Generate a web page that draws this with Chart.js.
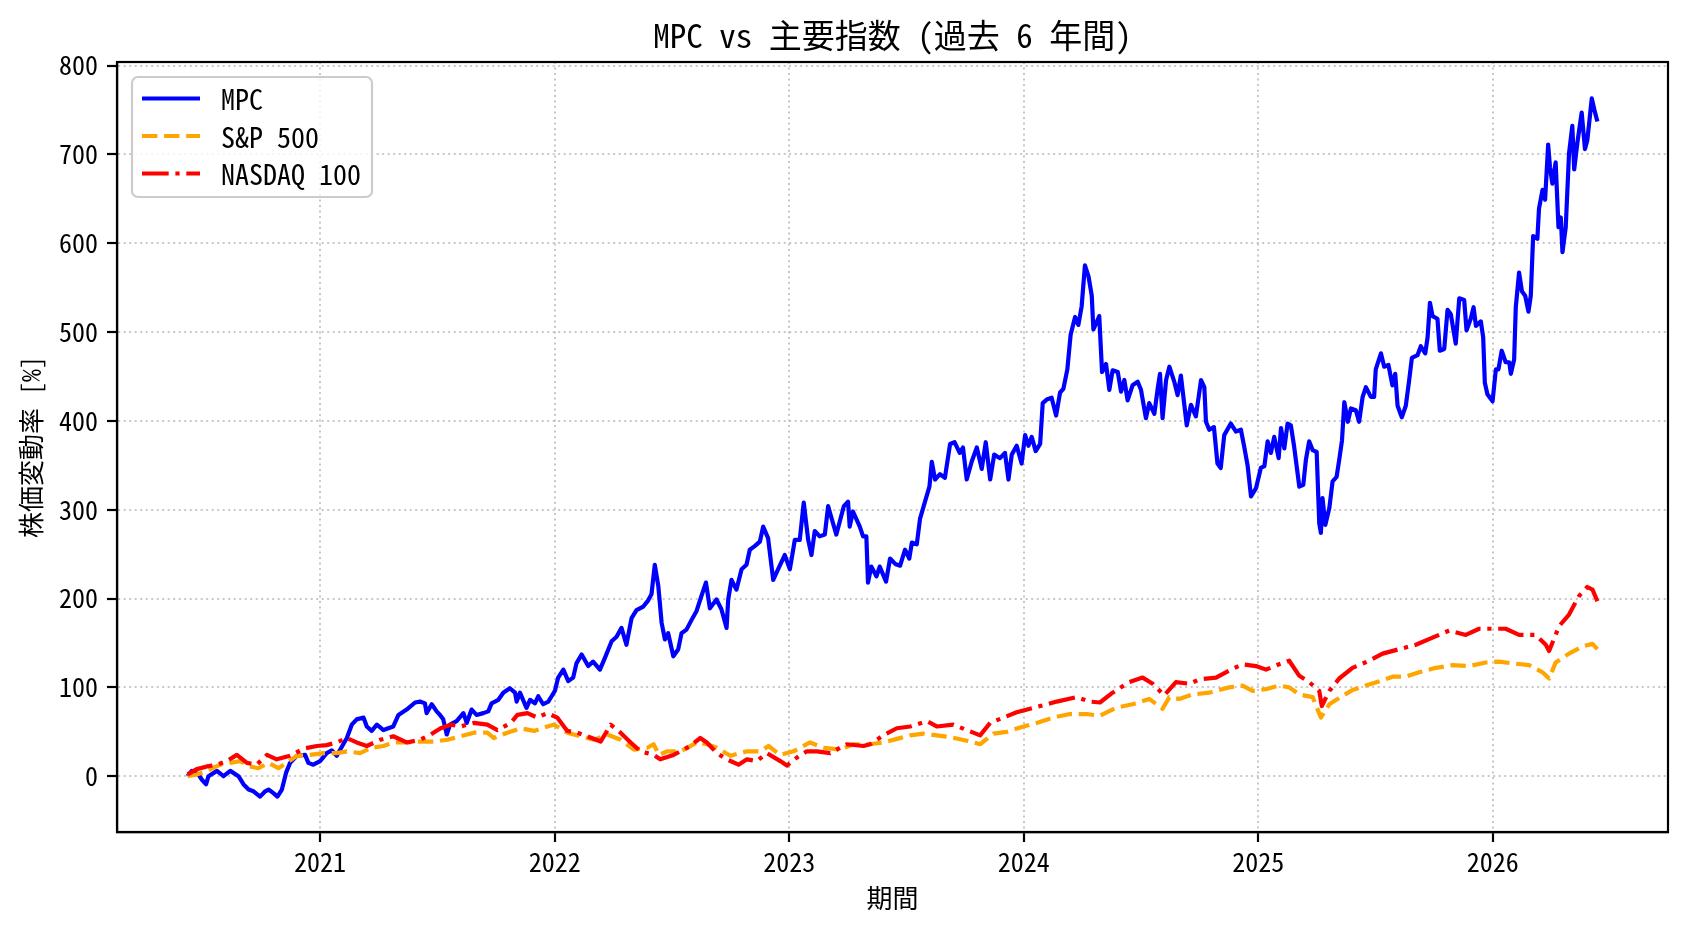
<!DOCTYPE html>
<html lang="ja">
<head>
<meta charset="UTF-8">
<title>MPC vs 主要指数</title>
<script src="https://cdn.jsdelivr.net/npm/chart.js@4.4.1/dist/chart.umd.min.js"></script>
<style>
  html, body { margin: 0; padding: 0; background: #fff; }
  #wrap { width: 1688px; height: 932px; }
</style>
</head>
<body>
<div id="wrap"><canvas id="myChart" width="1688" height="932"></canvas></div>
<script>
// --- data (x = decimal year, y = % change) ---
const chartTitle = 'MPC vs 主要指数 (過去 6 年間)';
const seriesNames = ['MPC', 'S&P 500', 'NASDAQ 100'];
const xTicks = [2021, 2022, 2023, 2024, 2025, 2026];
const yTicks = [0, 100, 200, 300, 400, 500, 600, 700, 800];

const mpcX = [
  2020.435, 2020.453, 2020.481, 2020.496, 2020.514, 2020.524, 2020.560, 2020.588, 2020.617, 2020.652,
  2020.673, 2020.695, 2020.716, 2020.744, 2020.766, 2020.780, 2020.801, 2020.818, 2020.837, 2020.855,
  2020.872, 2020.901, 2020.936, 2020.950, 2020.971, 2021.000, 2021.028, 2021.050, 2021.071, 2021.092,
  2021.114, 2021.135, 2021.156, 2021.185, 2021.199, 2021.220, 2021.242, 2021.270, 2021.291, 2021.312,
  2021.334, 2021.369, 2021.405, 2021.426, 2021.447, 2021.454, 2021.476, 2021.497, 2021.511, 2021.525,
  2021.540, 2021.554, 2021.582, 2021.611, 2021.625, 2021.646, 2021.667, 2021.696, 2021.717, 2021.731,
  2021.760, 2021.781, 2021.809, 2021.831, 2021.838, 2021.852, 2021.880, 2021.895, 2021.916, 2021.930,
  2021.951, 2021.973, 2021.987, 2022.001, 2022.015, 2022.037, 2022.058, 2022.079, 2022.093, 2022.115,
  2022.143, 2022.164, 2022.193, 2022.214, 2022.243, 2022.264, 2022.285, 2022.306, 2022.328, 2022.349,
  2022.378, 2022.399, 2022.413, 2022.427, 2022.442, 2022.456, 2022.470, 2022.484, 2022.506, 2022.527,
  2022.541, 2022.562, 2022.584, 2022.605, 2022.626, 2022.645, 2022.662, 2022.690, 2022.711, 2022.733,
  2022.740, 2022.754, 2022.775, 2022.797, 2022.818, 2022.832, 2022.853, 2022.875, 2022.889, 2022.910,
  2022.932, 2022.953, 2022.981, 2023.003, 2023.024, 2023.045, 2023.062, 2023.081, 2023.095, 2023.109,
  2023.130, 2023.152, 2023.166, 2023.180, 2023.201, 2023.216, 2023.233, 2023.251, 2023.258, 2023.272,
  2023.301, 2023.315, 2023.329, 2023.336, 2023.350, 2023.372, 2023.386, 2023.413, 2023.430, 2023.452,
  2023.473, 2023.494, 2023.512, 2023.523, 2023.544, 2023.558, 2023.580, 2023.598, 2023.608, 2023.622,
  2023.643, 2023.664, 2023.686, 2023.705, 2023.727, 2023.741, 2023.757, 2023.778, 2023.800, 2023.821,
  2023.838, 2023.857, 2023.874, 2023.899, 2023.920, 2023.935, 2023.949, 2023.970, 2023.991, 2024.006,
  2024.020, 2024.034, 2024.051, 2024.070, 2024.081, 2024.098, 2024.119, 2024.138, 2024.155, 2024.169,
  2024.186, 2024.200, 2024.219, 2024.233, 2024.247, 2024.261, 2024.276, 2024.290, 2024.297, 2024.311,
  2024.322, 2024.334, 2024.351, 2024.365, 2024.379, 2024.401, 2024.415, 2024.429, 2024.443, 2024.464,
  2024.486, 2024.500, 2024.521, 2024.535, 2024.557, 2024.571, 2024.581, 2024.592, 2024.607, 2024.621,
  2024.642, 2024.656, 2024.670, 2024.695, 2024.713, 2024.734, 2024.756, 2024.770, 2024.777, 2024.791,
  2024.811, 2024.826, 2024.840, 2024.855, 2024.883, 2024.905, 2024.926, 2024.940, 2024.955, 2024.969,
  2024.990, 2025.011, 2025.026, 2025.040, 2025.054, 2025.068, 2025.087, 2025.097, 2025.111, 2025.125,
  2025.139, 2025.153, 2025.175, 2025.192, 2025.203, 2025.217, 2025.232, 2025.249, 2025.260, 2025.267,
  2025.274, 2025.286, 2025.303, 2025.317, 2025.334, 2025.345, 2025.357, 2025.367, 2025.382, 2025.395,
  2025.416, 2025.430, 2025.445, 2025.459, 2025.480, 2025.494, 2025.501, 2025.523, 2025.537, 2025.555,
  2025.572, 2025.584, 2025.594, 2025.612, 2025.629, 2025.643, 2025.655, 2025.679, 2025.693, 2025.712,
  2025.722, 2025.732, 2025.743, 2025.764, 2025.774, 2025.793, 2025.807, 2025.821, 2025.842, 2025.857,
  2025.878, 2025.888, 2025.906, 2025.918, 2025.928, 2025.949, 2025.959, 2025.966, 2025.977, 2025.999,
  2026.013, 2026.024, 2026.038, 2026.055, 2026.070, 2026.077, 2026.091, 2026.098, 2026.112, 2026.124,
  2026.138, 2026.152, 2026.162, 2026.172, 2026.190, 2026.197, 2026.212, 2026.223, 2026.236, 2026.244,
  2026.254, 2026.268, 2026.280, 2026.290, 2026.297, 2026.311, 2026.325, 2026.339, 2026.347, 2026.361,
  2026.379, 2026.393, 2026.403, 2026.422, 2026.436, 2026.446
];
const mpcY = [
  0, 6, 2, -4, -9, 0, 6, 0, 6, 0,
  -9, -15, -17, -23, -17, -15, -19, -23, -15, 4,
  15, 23, 24, 15, 13, 17, 26, 29, 23, 33,
  43, 58, 64, 66, 56, 51, 58, 52, 54, 56,
  69, 75, 83, 84, 82, 71, 81, 73, 69, 64,
  47, 58, 62, 71, 60, 75, 69, 71, 73, 82,
  86, 94, 99, 94, 84, 94, 77, 86, 82, 90,
  81, 84, 90, 96, 111, 120, 107, 111, 127, 137,
  124, 129, 120, 133, 152, 157, 167, 148, 178, 187,
  191, 198, 205, 238, 214, 173, 154, 161, 135, 143,
  161, 165, 176, 186, 203, 218, 189, 199, 188, 167,
  199, 221, 210, 233, 238, 255, 259, 264, 281, 268,
  221, 233, 249, 233, 266, 266, 308, 266, 249, 276,
  270, 272, 304, 291, 272, 287, 304, 309, 281, 298,
  281, 270, 270, 218, 236, 225, 236, 219, 245, 239,
  237, 255, 245, 263, 261, 290, 310, 326, 354, 334,
  340, 336, 374, 376, 364, 370, 334, 354, 370, 346,
  376, 334, 362, 358, 364, 334, 362, 372, 352, 384,
  372, 382, 366, 374, 420, 424, 426, 406, 432, 436,
  458, 497, 517, 508, 529, 575, 563, 541, 503, 511,
  518, 455, 464, 435, 457, 455, 433, 446, 423, 440,
  444, 435, 403, 420, 408, 436, 453, 403, 446, 461,
  444, 429, 451, 395, 418, 405, 446, 438, 399, 390,
  393, 352, 347, 384, 397, 388, 390, 371, 349, 315,
  324, 347, 349, 377, 364, 382, 358, 392, 369, 397,
  395, 371, 326, 328, 356, 377, 367, 365, 285, 274,
  313, 283, 302, 332, 337, 356, 378, 421, 399, 414,
  412, 399, 427, 438, 427, 427, 458, 476, 461, 463,
  440, 453, 417, 404, 417, 445, 471, 474, 484, 476,
  494, 533, 518, 515, 479, 481, 525, 520, 487, 538,
  536, 502, 515, 528, 507, 512, 494, 443, 430, 422,
  458, 458, 479, 466, 466, 453, 469, 528, 567, 546,
  541, 523, 541, 608, 605, 639, 660, 649, 711, 685,
  667, 691, 618, 629, 590, 618, 701, 732, 683, 714,
  747, 706, 716, 763, 747, 737
];

const spxX = [
  2020.435, 2020.474, 2020.517, 2020.574, 2020.616, 2020.659, 2020.702, 2020.737, 2020.780, 2020.822,
  2020.858, 2020.901, 2020.957, 2021.014, 2021.071, 2021.114, 2021.170, 2021.220, 2021.270, 2021.312,
  2021.369, 2021.426, 2021.486, 2021.543, 2021.599, 2021.656, 2021.713, 2021.741, 2021.798, 2021.855,
  2021.912, 2021.969, 2021.997, 2022.054, 2022.111, 2022.168, 2022.224, 2022.281, 2022.338, 2022.395,
  2022.422, 2022.445, 2022.479, 2022.536, 2022.607, 2022.649, 2022.692, 2022.749, 2022.820, 2022.876,
  2022.912, 2022.962, 2023.018, 2023.089, 2023.146, 2023.217, 2023.274, 2023.345, 2023.402, 2023.459,
  2023.516, 2023.572, 2023.629, 2023.686, 2023.757, 2023.814, 2023.871, 2023.928, 2023.999, 2024.055,
  2024.126, 2024.197, 2024.268, 2024.325, 2024.393, 2024.464, 2024.535, 2024.592, 2024.621, 2024.663,
  2024.720, 2024.791, 2024.876, 2024.933, 2024.976, 2025.033, 2025.089, 2025.132, 2025.175, 2025.232,
  2025.267, 2025.303, 2025.345, 2025.402, 2025.459, 2025.517, 2025.573, 2025.629, 2025.686, 2025.757,
  2025.828, 2025.899, 2025.970, 2026.027, 2026.084, 2026.155, 2026.212, 2026.240, 2026.268, 2026.325,
  2026.382, 2026.425, 2026.446
];
const spxY = [
  0, 2, 6, 13, 15, 17, 11, 9, 15, 9,
  15, 23, 24, 26, 26, 28, 26, 32, 34, 38,
  38, 39, 39, 41, 45, 49, 49, 43, 49, 54,
  51, 56, 58, 49, 45, 41, 47, 41, 30, 32,
  36, 24, 28, 28, 38, 36, 32, 23, 28, 28,
  34, 24, 28, 38, 32, 30, 36, 36, 38, 42,
  46, 48, 46, 44, 40, 36, 48, 50, 56, 60,
  66, 70, 70, 68, 77, 81, 87, 76, 89, 87,
  92, 94, 100, 102, 96, 98, 102, 100, 92, 89,
  66, 81, 88, 97, 102, 107, 112, 112, 117, 122,
  125, 124, 128, 129, 127, 125, 117, 110, 128, 138,
  146, 149, 143
];

const ndxX = [
  2020.435, 2020.474, 2020.517, 2020.560, 2020.602, 2020.645, 2020.688, 2020.730, 2020.773, 2020.815,
  2020.872, 2020.929, 2020.986, 2021.028, 2021.071, 2021.114, 2021.156, 2021.199, 2021.256, 2021.312,
  2021.369, 2021.426, 2021.472, 2021.514, 2021.557, 2021.599, 2021.656, 2021.713, 2021.756, 2021.813,
  2021.841, 2021.884, 2021.926, 2021.969, 2022.011, 2022.054, 2022.097, 2022.139, 2022.196, 2022.239,
  2022.281, 2022.324, 2022.366, 2022.395, 2022.423, 2022.450, 2022.507, 2022.550, 2022.578, 2022.621,
  2022.649, 2022.692, 2022.734, 2022.784, 2022.820, 2022.862, 2022.905, 2022.962, 2022.990, 2023.033,
  2023.075, 2023.118, 2023.175, 2023.246, 2023.317, 2023.345, 2023.402, 2023.459, 2023.516, 2023.587,
  2023.629, 2023.700, 2023.757, 2023.814, 2023.857, 2023.913, 2023.970, 2024.027, 2024.084, 2024.141,
  2024.226, 2024.283, 2024.325, 2024.379, 2024.450, 2024.507, 2024.550, 2024.599, 2024.649, 2024.706,
  2024.749, 2024.820, 2024.876, 2024.933, 2024.990, 2025.033, 2025.089, 2025.132, 2025.175, 2025.217,
  2025.260, 2025.271, 2025.303, 2025.345, 2025.402, 2025.473, 2025.530, 2025.601, 2025.672, 2025.743,
  2025.814, 2025.885, 2025.942, 2025.999, 2026.055, 2026.112, 2026.183, 2026.226, 2026.240, 2026.283,
  2026.325, 2026.368, 2026.403, 2026.425, 2026.446
];
const ndxY = [
  2, 8, 11, 13, 17, 24, 15, 13, 24, 19,
  23, 31, 34, 35, 38, 43, 38, 34, 41, 45,
  38, 41, 47, 54, 58, 56, 60, 58, 52, 60,
  69, 71, 66, 71, 66, 51, 49, 45, 39, 58,
  49, 38, 28, 26, 24, 19, 24, 30, 34, 43,
  38, 26, 19, 13, 19, 17, 26, 17, 12, 21,
  28, 28, 26, 36, 34, 36, 46, 54, 56, 62,
  56, 58, 52, 46, 60, 66, 72, 76, 80, 84,
  89, 84, 83, 94, 106, 111, 104, 91, 106, 104,
  109, 111, 119, 126, 124, 120, 126, 130, 113, 106,
  96, 79, 96, 110, 122, 130, 138, 143, 148, 156,
  164, 159, 166, 166, 166, 159, 159, 148, 141, 169,
  182, 203, 213, 210, 197
];

const FONT = "'Noto Sans Mono CJK JP', 'Noto Sans CJK JP', sans-serif";
const GRID = 'rgba(176,176,176,0.7)';

Chart.defaults.font.family = FONT;
Chart.defaults.color = '#000';

function toPts(xs, ys) {
  return xs.map((x, i) => ({ x: x, y: ys[i] }));
}

// title centred over the plot area, like matplotlib
const plotTitle = {
  id: 'plotTitle',
  afterDraw(chart) {
    const { ctx, chartArea: a } = chart;
    ctx.save();
    ctx.font = '33px ' + FONT;
    ctx.fillStyle = '#000';
    ctx.textAlign = 'center';
    ctx.textBaseline = 'middle';
    ctx.fillText(chartTitle, (a.left + a.right) / 2, 35);
    ctx.restore();
  }
};

// full box around the plot (matplotlib spines)
const frame = {
  id: 'frame',
  afterDraw(chart) {
    const { ctx, chartArea: a } = chart;
    ctx.save();
    ctx.strokeStyle = '#000';
    ctx.lineWidth = 2.2;
    ctx.strokeRect(a.left, a.top, a.right - a.left, a.bottom - a.top);
    ctx.restore();
  }
};

// legend box in the upper left of the plot
const legendBox = {
  id: 'legendBox',
  afterDraw(chart) {
    const { ctx, chartArea: a } = chart;
    const sets = chart.data.datasets;
    ctx.save();
    ctx.font = '28px ' + FONT;
    const textW = Math.max(...sets.map(d => ctx.measureText(d.label).width));
    const x0 = a.left + 15, y0 = a.top + 15;
    const w = 89 + textW + 11, h = 120;
    ctx.beginPath();
    ctx.roundRect(x0, y0, w, h, 6);
    ctx.fillStyle = 'rgba(255,255,255,0.8)';
    ctx.fill();
    ctx.strokeStyle = '#cccccc';
    ctx.lineWidth = 2.2;
    ctx.stroke();
    sets.forEach((d, i) => {
      const y = y0 + 21.5 + i * 37.5;
      ctx.beginPath();
      ctx.setLineDash(d.borderDash || []);
      ctx.strokeStyle = d.borderColor;
      ctx.lineWidth = d.borderWidth;
      ctx.moveTo(x0 + 10, y);
      ctx.lineTo(x0 + 68, y);
      ctx.stroke();
      ctx.setLineDash([]);
      ctx.fillStyle = '#000';
      ctx.textBaseline = 'middle';
      ctx.textAlign = 'left';
      ctx.fillText(d.label, x0 + 89, y + 1);
    });
    ctx.restore();
  }
};

const ctx = document.getElementById('myChart');
const myChart = new Chart(ctx, {
  type: 'line',
  data: {
    datasets: [
      { label: seriesNames[0], data: toPts(mpcX, mpcY), borderColor: '#0000ff', borderWidth: 4.2, borderDash: [], order: 3 },
      { label: seriesNames[1], data: toPts(spxX, spxY), borderColor: '#ffa500', borderWidth: 4.2, borderDash: [15.4, 6.7], order: 2 },
      { label: seriesNames[2], data: toPts(ndxX, ndxY), borderColor: '#ff0000', borderWidth: 4.2, borderDash: [26.7, 6.7, 4.2, 6.7], order: 1 }
    ]
  },
  options: {
    responsive: false,
    devicePixelRatio: 1,
    animation: false,
    elements: {
      point: { radius: 0 },
      line: { tension: 0, borderJoinStyle: 'round', fill: false }
    },
    layout: { padding: { left: 0, right: 20, top: 62, bottom: 0 } },
    plugins: {
      legend: { display: false },
      tooltip: { enabled: false },
      title: { display: false }
    },
    scales: {
      x: {
        type: 'linear',
        min: 2020.134,
        max: 2026.747,
        afterBuildTicks: ax => { ax.ticks = xTicks.map(v => ({ value: v })); },
        afterFit: s => { s.height = 100; },
        ticks: { callback: v => String(v), font: { size: 26 }, color: '#000', padding: 5, maxRotation: 0, autoSkip: false },
        grid: { color: GRID, lineWidth: 2, tickColor: '#000', tickWidth: 2.2, tickLength: 10, tickBorderDash: [] },
        border: { display: true, color: '#000', width: 2.2, dash: [2, 3.5] },
        title: { display: true, text: '期間', color: '#000', font: { size: 26 }, padding: { top: 0, bottom: 18 } }
      },
      y: {
        type: 'linear',
        min: -62.8,
        max: 804,
        afterBuildTicks: ax => { ax.ticks = yTicks.map(v => ({ value: v })); },
        afterFit: s => { s.width = 117; },
        ticks: { font: { size: 26 }, color: '#000', padding: 9, autoSkip: false },
        grid: { color: GRID, lineWidth: 2, tickColor: '#000', tickWidth: 2.2, tickLength: 10, tickBorderDash: [] },
        border: { display: true, color: '#000', width: 2.2, dash: [2, 3.5] },
        title: { display: true, text: '株価変動率 [%]', color: '#000', font: { size: 26 }, padding: { top: 16, bottom: 0 } }
      }
    }
  },
  plugins: [frame, legendBox, plotTitle]
});
</script>
</body>
</html>
